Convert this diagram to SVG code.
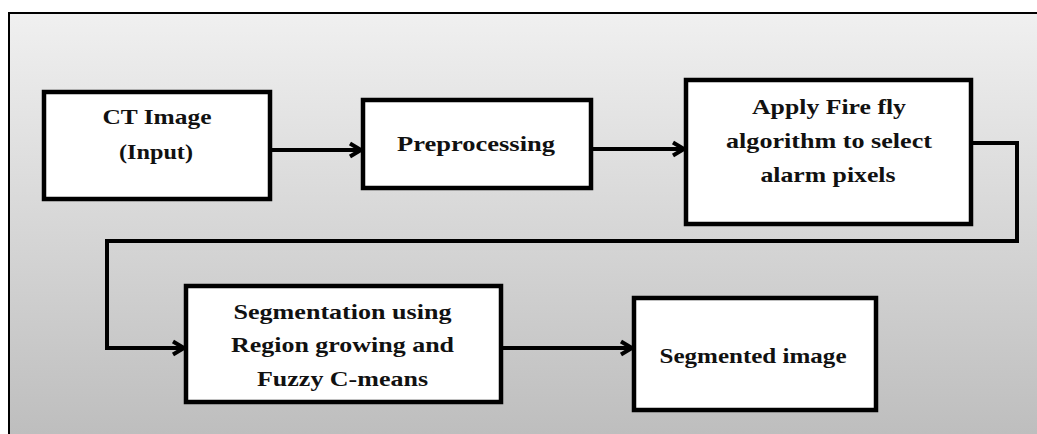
<svg xmlns="http://www.w3.org/2000/svg" width="1037" height="434" viewBox="0 0 1037 434">
  <defs>
    <linearGradient id="bg" x1="0" y1="0" x2="0" y2="1">
      <stop offset="0" stop-color="#f0f0f0"/>
      <stop offset="1" stop-color="#bebebe"/>
    </linearGradient>
    <marker id="arr" markerUnits="userSpaceOnUse" markerWidth="18" markerHeight="18" viewBox="0 0 18 18" refX="15" refY="9" orient="auto">
      <path d="M4,2.5 L15,9 L4,15.5" fill="none" stroke="#000" stroke-width="4" stroke-linejoin="miter"/>
    </marker>
    <style>
      .box { fill: #ffffff; stroke: #000000; stroke-width: 4.5; }
      .lbl { font-family: "Liberation Serif", "Times New Roman", serif; font-weight: bold; font-size: 22px; fill: #111; text-anchor: middle; }
      .conn { fill: none; stroke: #000000; stroke-width: 4; }
    </style>
  </defs>
  <rect x="0" y="0" width="1037" height="434" fill="#ffffff"/>
  <rect x="9" y="13" width="1028" height="421" fill="url(#bg)"/>
  <path d="M9,434 L9,13 L1037,13" fill="none" stroke="#000" stroke-width="2"/>

  <g id="connectors">
    <path class="conn" d="M271,150 L361,150" marker-end="url(#arr)"/>
    <path class="conn" d="M592,149 L684,149" marker-end="url(#arr)"/>
    <path class="conn" d="M972,143 L1017,143 L1017,241 L107,241 L107,348 L184,348" marker-end="url(#arr)"/>
    <path class="conn" d="M502,348 L632,348" marker-end="url(#arr)"/>
  </g>

  <g id="node-ct-image">
    <rect class="box" x="44" y="92" width="226" height="107"/>
    <text class="lbl" x="157" y="124" textLength="109" lengthAdjust="spacingAndGlyphs">CT Image</text>
    <text class="lbl" x="156" y="159" textLength="74" lengthAdjust="spacingAndGlyphs">(Input)</text>
  </g>

  <g id="node-preprocessing">
    <rect class="box" x="363" y="100" width="228" height="88"/>
    <text class="lbl" x="476" y="151" textLength="158" lengthAdjust="spacingAndGlyphs">Preprocessing</text>
  </g>

  <g id="node-firefly">
    <rect class="box" x="686" y="80" width="285" height="144"/>
    <text class="lbl" x="829" y="114" textLength="154" lengthAdjust="spacingAndGlyphs">Apply Fire fly</text>
    <text class="lbl" x="829" y="148" textLength="206" lengthAdjust="spacingAndGlyphs">algorithm to select</text>
    <text class="lbl" x="828" y="182" textLength="135" lengthAdjust="spacingAndGlyphs">alarm pixels</text>
  </g>

  <g id="node-segmentation">
    <rect class="box" x="186" y="286" width="315" height="116"/>
    <text class="lbl" x="342.5" y="319" textLength="218" lengthAdjust="spacingAndGlyphs">Segmentation using</text>
    <text class="lbl" x="342.5" y="352" textLength="223" lengthAdjust="spacingAndGlyphs">Region growing and</text>
    <text class="lbl" x="342.5" y="386" textLength="171" lengthAdjust="spacingAndGlyphs">Fuzzy C-means</text>
  </g>

  <g id="node-segmented-image">
    <rect class="box" x="634" y="298" width="242" height="112"/>
    <text class="lbl" x="753" y="363" textLength="187" lengthAdjust="spacingAndGlyphs">Segmented image</text>
  </g>
</svg>
